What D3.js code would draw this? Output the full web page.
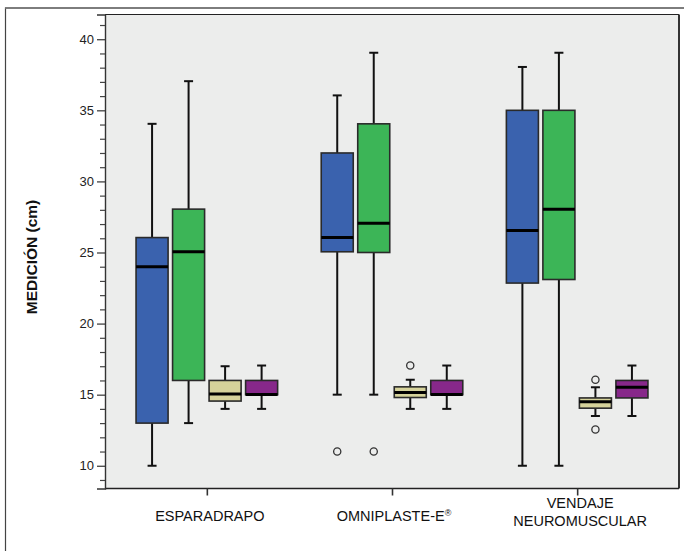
<!DOCTYPE html>
<html>
<head>
<meta charset="utf-8">
<script src="https://cdn.jsdelivr.net/npm/d3@7"></script>
<style>
  html, body { margin: 0; padding: 0; background: #ffffff; }
  svg { display: block; font-family: "Liberation Sans", Arial, sans-serif; }
</style>
</head>
<body>
<svg id="chart" width="684" height="551"></svg>
<script>
// ---- data ----
const categories = ["ESPARADRAPO", "OMNIPLASTE-E", "VENDAJE NEUROMUSCULAR"];
const series = ["A", "B", "C", "D"];
const seriesColors = ["#3a62ae", "#3cb557", "#d5d29a", "#87288a"];
// per series: values per category
const whiskerLow = [
  [10, 15, 10],
  [13, 15, 10],
  [14, 14, 13.5],
  [14, 14, 13.5]
];
const q1Values = [
  [13, 25.05, 22.85],
  [16, 25, 23.1],
  [14.55, 14.8, 14.05],
  [15, 15, 14.77]
];
const medianValues = [
  [24, 26.05, 26.55],
  [25.05, 27.05, 28.05],
  [15.05, 15.15, 14.5],
  [15.02, 15.02, 15.52]
];
const q3Values = [
  [26.05, 32, 35],
  [28.05, 34.05, 35],
  [16, 15.55, 14.77],
  [16, 16, 16]
];
const whiskerHigh = [
  [34.05, 36.05, 38.05],
  [37.05, 39.05, 39.05],
  [17, 16.05, 15.52],
  [17.05, 17.05, 17.05]
];
// outliers: [seriesIndex, categoryIndex, value]
const outliers = [
  [0, 1, 11], [1, 1, 11],
  [2, 1, 17.05],
  [2, 2, 16.05], [2, 2, 12.55]
];
const yMajorTicks = [10, 15, 20, 25, 30, 35, 40];
const yMinorTicks = [9, 11, 12, 13, 14, 16, 17, 18, 19, 21, 22, 23, 24, 26, 27, 28, 29, 31, 32, 33, 34, 36, 37, 38, 39, 41];
const yLabel = "MEDICIÓN (cm)";

// ---- layout ----
const svg = d3.select("#chart");
const plot = { left: 105, right: 679, top: 14.5, bottom: 488.5 };

const y = d3.scaleLinear().domain([8.4, 41.74]).range([plot.bottom, plot.top]);
const x0 = d3.scaleBand().domain(categories).range([plot.left, plot.right]).paddingInner(0).paddingOuter(0.05);
const x1 = d3.scaleBand().domain(series).range([0, x0.bandwidth()]).paddingInner(0.123).paddingOuter(0.597);

// outer frame
svg.append("rect").attr("x", 5.5).attr("y", 8).attr("width", 700).attr("height", 600)
  .attr("fill", "#ffffff").attr("stroke", "#444").attr("stroke-width", 1.2);
svg.append("line").attr("x1", 5).attr("x2", 684).attr("y1", 8).attr("y2", 8)
  .attr("stroke", "#777").attr("stroke-width", 1.6);

// plot background
svg.append("rect").attr("x", plot.left).attr("y", plot.top)
  .attr("width", plot.right - plot.left).attr("height", plot.bottom - plot.top)
  .attr("fill", "#ecedec");

// boxes
const g = svg.append("g");
series.forEach((s, si) => {
  categories.forEach((c, ci) => {
    const xl = x0(c) + x1(s);
    const w = x1.bandwidth();
    const cx = xl + w / 2;
    const capW = 9;
    const gg = g.append("g");
    // whiskers
    gg.append("line").attr("x1", cx).attr("x2", cx)
      .attr("y1", y(whiskerHigh[si][ci])).attr("y2", y(q3Values[si][ci]))
      .attr("stroke", "#111").attr("stroke-width", 2);
    gg.append("line").attr("x1", cx).attr("x2", cx)
      .attr("y1", y(q1Values[si][ci])).attr("y2", y(whiskerLow[si][ci]))
      .attr("stroke", "#111").attr("stroke-width", 2);
    gg.append("line").attr("x1", cx - capW / 2).attr("x2", cx + capW / 2)
      .attr("y1", y(whiskerHigh[si][ci])).attr("y2", y(whiskerHigh[si][ci]))
      .attr("stroke", "#111").attr("stroke-width", 2);
    gg.append("line").attr("x1", cx - capW / 2).attr("x2", cx + capW / 2)
      .attr("y1", y(whiskerLow[si][ci])).attr("y2", y(whiskerLow[si][ci]))
      .attr("stroke", "#111").attr("stroke-width", 2);
    // box
    const top = y(q3Values[si][ci]);
    const bot = y(q1Values[si][ci]);
    gg.append("rect").attr("x", xl).attr("y", top)
      .attr("width", w).attr("height", Math.max(bot - top, 0.5))
      .attr("fill", seriesColors[si]).attr("stroke", "#2a2a2a").attr("stroke-width", 1.6);
    // median
    gg.append("line").attr("x1", xl).attr("x2", xl + w)
      .attr("y1", y(medianValues[si][ci])).attr("y2", y(medianValues[si][ci]))
      .attr("stroke", "#000").attr("stroke-width", 3);
  });
});

// outliers
g.selectAll("circle.out").data(outliers).enter().append("circle")
  .attr("class", "out")
  .attr("cx", d => x0(categories[d[1]]) + x1(series[d[0]]) + x1.bandwidth() / 2)
  .attr("cy", d => y(d[2]))
  .attr("r", 3.6)
  .attr("fill", "none").attr("stroke", "#333").attr("stroke-width", 1.3);

// plot frame (top, right, bottom)
svg.append("line").attr("x1", plot.left).attr("x2", plot.right).attr("y1", plot.top).attr("y2", plot.top)
  .attr("stroke", "#222").attr("stroke-width", 1.2);
svg.append("line").attr("x1", plot.right).attr("x2", plot.right).attr("y1", plot.top).attr("y2", plot.bottom)
  .attr("stroke", "#333").attr("stroke-width", 2);
svg.append("line").attr("x1", plot.left).attr("x2", plot.right).attr("y1", plot.bottom).attr("y2", plot.bottom)
  .attr("stroke", "#222").attr("stroke-width", 1.4);

// y axis
const yAxis = d3.axisLeft(y).tickValues(yMajorTicks).tickSize(8).tickPadding(3).tickFormat(d3.format("d"));
const ya = svg.append("g").attr("transform", `translate(${plot.left},0)`).call(yAxis);
ya.select(".domain").attr("stroke", "#333").attr("stroke-width", 1.4);
ya.selectAll(".tick line").attr("stroke", "#333").attr("stroke-width", 1.2);
ya.selectAll(".tick text").attr("font-size", 13).attr("fill", "#222")
  .attr("font-family", "'Liberation Sans', Arial, sans-serif");
const yMinor = d3.axisLeft(y).tickValues(yMinorTicks).tickSize(5).tickFormat("");
const ym = svg.append("g").attr("transform", `translate(${plot.left},0)`).call(yMinor);
ym.select(".domain").remove();
ym.selectAll(".tick line").attr("stroke", "#444").attr("stroke-width", 1.2);

// x axis ticks
const xCenters = d3.scalePoint().domain(categories).range([x0(categories[0]) + x0.bandwidth() / 2, x0(categories[2]) + x0.bandwidth() / 2]);
const xAxis = d3.axisBottom(xCenters).tickSize(7).tickFormat("");
const xa = svg.append("g").attr("transform", `translate(0,${plot.bottom})`).call(xAxis);
xa.select(".domain").remove();
xa.selectAll(".tick line").attr("stroke", "#333").attr("stroke-width", 1.6);

// x labels
const labelFont = "'Liberation Sans', Arial, sans-serif";
const xFont = 14.5;
// ESPARADRAPO
svg.append("text").attr("x", xCenters(categories[0]) + 3).attr("y", 521)
  .attr("text-anchor", "middle").attr("font-size", xFont).attr("fill", "#111")
  .attr("font-family", labelFont).text(categories[0]);
// OMNIPLASTE-E®
const t2 = svg.append("text").attr("x", xCenters(categories[1]) + 2).attr("y", 521)
  .attr("text-anchor", "middle").attr("font-size", xFont).attr("fill", "#111")
  .attr("font-family", labelFont);
t2.append("tspan").text(categories[1]);
t2.append("tspan").attr("font-size", 9).attr("dy", -5).text("®");
// VENDAJE NEUROMUSCULAR
const parts = categories[2].split(" ");
svg.append("text").attr("x", xCenters(categories[2]) + 3).attr("y", 508)
  .attr("text-anchor", "middle").attr("font-size", xFont).attr("fill", "#111")
  .attr("font-family", labelFont).text(parts[0]);
svg.append("text").attr("x", xCenters(categories[2]) + 3).attr("y", 525.5)
  .attr("text-anchor", "middle").attr("font-size", xFont).attr("fill", "#111")
  .attr("font-family", labelFont).text(parts[1]);

// y label
svg.append("text")
  .attr("transform", `translate(37, 257) rotate(-90)`)
  .attr("text-anchor", "middle").attr("font-size", 15.5).attr("font-weight", "bold")
  .attr("fill", "#111").attr("font-family", labelFont).text(yLabel);
</script>
</body>
</html>
